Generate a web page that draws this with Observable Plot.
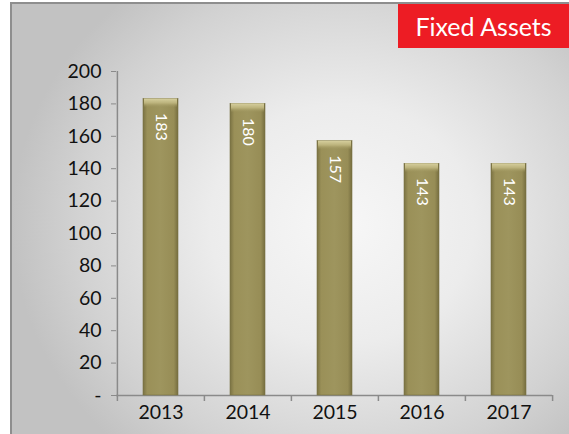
<!DOCTYPE html>
<html><head><meta charset="utf-8">
<script src="https://cdn.jsdelivr.net/npm/d3@7"></script>
<script src="https://cdn.jsdelivr.net/npm/@observablehq/plot@0.6"></script>
<style>
html,body{margin:0;padding:0;background:#fff;}
#wrap{position:relative;width:569px;height:434px;overflow:hidden;font-family:Lato,"Open Sans",sans-serif;}
#panel{position:absolute;left:10px;top:2px;width:559px;height:432px;border-left:2px solid #8e8e8e;border-top:2px solid #8e8e8e;
 background:radial-gradient(ellipse 330px 300px at 330px 220px,#f7f7f7 0%,#ececec 40%,#d2d2d2 80%,#c2c2c2 100%);}
#title{position:absolute;left:398px;top:4px;width:171px;height:44px;background:#ed1c24;color:#fff;font-size:25px;line-height:44px;text-align:center;}
#chart{position:absolute;left:0;top:0;}
</style></head>
<body>
<div id="wrap"><div id="panel"></div><div id="chart"></div><div id="title">Fixed Assets</div></div>
<script>
const years = ["2013","2014","2015","2016","2017"];
const values = [183,180,157,143,143];
const yTicks = [0,20,40,60,80,100,120,140,160,180,200];
const data = years.map((y,i)=>({year:y,value:values[i]}));

const W=569,H=434,mL=116,mR=17,mT=71,mB=39;
const bw=(W-mL-mR)/years.length;
const axisColor="#8a8a8a";

const svg = Plot.plot({
  width:W,height:H,marginLeft:mL,marginRight:mR,marginTop:mT,marginBottom:mB,
  style:{background:"transparent",fontFamily:"Lato, 'Open Sans', sans-serif",overflow:"visible"},
  x:{domain:years,paddingInner:0.6,paddingOuter:0.3,label:null,axis:null},
  y:{domain:[0,200],label:null,axis:null},
  marks:[
    Plot.ruleY([0],{stroke:axisColor,strokeWidth:1.5}),
    Plot.ruleX([years[0]],{y1:0,y2:200,dx:-bw/2,stroke:axisColor,strokeWidth:1.5}),
    Plot.ruleX(years,{x:d=>d,y1:0,y2:0,insetBottom:-6,dx:-bw/2,stroke:axisColor,strokeWidth:1.5}),
    Plot.ruleX([years[years.length-1]],{y1:0,y2:0,insetBottom:-6,dx:bw/2,stroke:axisColor,strokeWidth:1.5}),
    Plot.axisY({ticks:yTicks,tickSize:5,tickPadding:10,stroke:axisColor,fontSize:19.5,fill:"#111",
      tickFormat:d=>d===0?"-":String(d)}),
    Plot.axisX({tickSize:0,tickPadding:10,fontSize:19.5,fill:"#111"}),
    Plot.barY(data,{x:"year",y:"value",fill:"url(#barGrad)",stroke:"#7a7345",strokeWidth:0.6}),
    Plot.barY(data,{x:"year",y1:d=>d.value,y2:d=>d.value,insetBottom:-9,insetLeft:1,insetRight:1,fill:"url(#topGrad)"}),
    Plot.text(data,{x:"year",y:"value",text:d=>String(d.value),rotate:90,textAnchor:"start",dy:14,fill:"#fff",fontSize:16})
  ]
});

const defs = d3.select(svg).insert("defs",":first-child");
const g = defs.append("linearGradient").attr("id","barGrad").attr("x1","0").attr("x2","1").attr("y1","0").attr("y2","0");
[[0,"#7a7243"],[0.12,"#9a9058"],[0.5,"#9e955e"],[0.88,"#978d56"],[1,"#756d3f"]].forEach(([o,c])=>g.append("stop").attr("offset",o).attr("stop-color",c));
const t = defs.append("linearGradient").attr("id","topGrad").attr("x1","0").attr("x2","0").attr("y1","0").attr("y2","1");
[[0,"#d6cf9e"],[0.5,"#bbb27b"],[1,"#9e955e",0]].forEach(([o,c,a])=>t.append("stop").attr("offset",o).attr("stop-color",c).attr("stop-opacity",a===undefined?1:a));

document.getElementById("chart").appendChild(svg);
</script>
</body></html>
